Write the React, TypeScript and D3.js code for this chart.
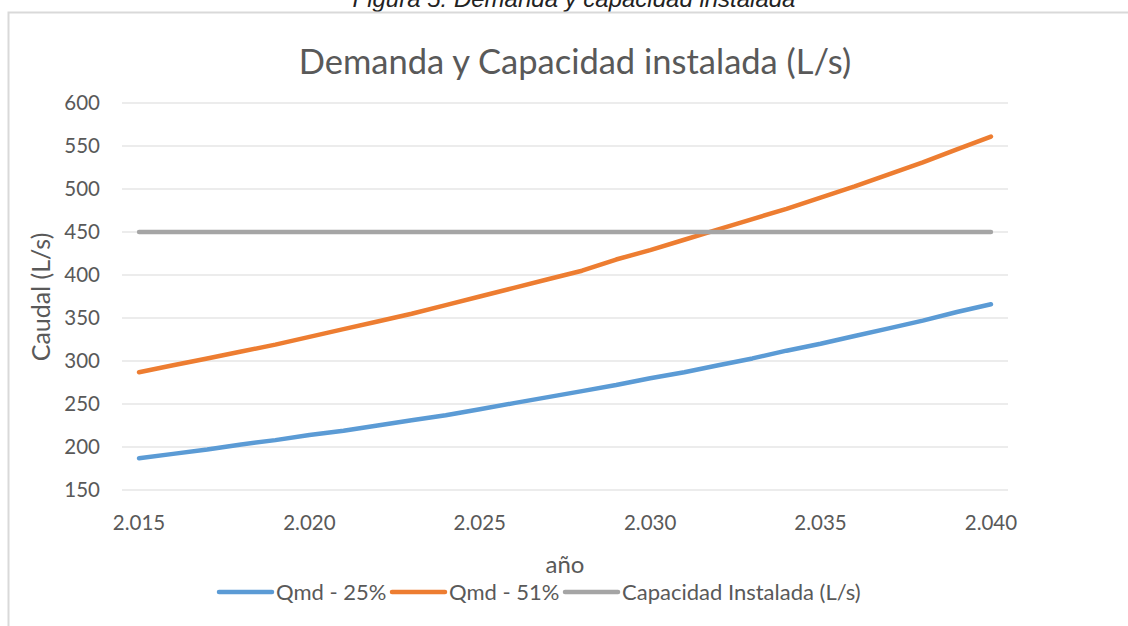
import * as d3 from "d3";
import { useRef, useEffect } from "react";

const years = [
  2015, 2016, 2017, 2018, 2019, 2020, 2021, 2022, 2023, 2024, 2025, 2026, 2027,
  2028, 2029, 2030, 2031, 2032, 2033, 2034, 2035, 2036, 2037, 2038, 2039, 2040,
];
const qmd25 = [
  187, 192, 197, 203, 208, 214, 219, 225, 231, 237, 244, 251, 258, 265, 272,
  280, 287, 295, 303, 312, 320, 329, 338, 347, 357, 366,
];
const qmd51 = [
  287, 295, 303, 311, 319, 328, 337, 346, 355, 365, 375, 385, 395, 405, 418,
  429, 441, 453, 465, 477, 490, 503, 517, 531, 546, 561,
];
const capacidad = years.map(() => 450);
const yTicks = [150, 200, 250, 300, 350, 400, 450, 500, 550, 600];
const xTickYears = [2015, 2020, 2025, 2030, 2035, 2040];
const seriesNames = ["Qmd - 25%", "Qmd - 51%", "Capacidad Instalada (L/s)"];
const colors = ["#5b9bd5", "#ed7d31", "#a5a5a5"];

const W = 1128;
const H = 626;
const FONT = "Lato, 'Open Sans', sans-serif";
const TEXT = "#595959";

export default function App() {
  const svgRef = useRef<SVGSVGElement>(null);

  useEffect(() => {
    const svg = d3.select(svgRef.current);
    svg.selectAll("*").remove();

    const left = 122;
    const right = 1008;
    const top = 103;
    const bottom = 490;

    const x = d3
      .scalePoint<number>()
      .domain(years)
      .range([left, right])
      .padding(0.5);
    const y = d3.scaleLinear().domain([150, 600]).range([bottom, top]);

    // caption above the chart frame (cut off by the page top, as in the source)
    svg
      .append("text")
      .attr("x", 574)
      .attr("y", 7)
      .attr("text-anchor", "middle")
      .attr("font-family", "'Liberation Sans', Arial, sans-serif")
      .attr("font-style", "italic")
      .attr("font-size", 24)
      .attr("fill", "#222")
      .text("Figura 5. Demanda y capacidad instalada");

    // chart frame
    svg
      .append("rect")
      .attr("x", 8.5)
      .attr("y", 12.5)
      .attr("width", W + 20)
      .attr("height", H + 20)
      .attr("fill", "#fff")
      .attr("stroke", "#d9d9d9")
      .attr("stroke-width", 2);

    // title
    svg
      .append("text")
      .attr("x", 575)
      .attr("y", 74)
      .attr("text-anchor", "middle")
      .attr("font-family", FONT)
      .attr("font-size", 34.5)
      .attr("fill", TEXT)
      .text("Demanda y Capacidad instalada (L/s)");

    // grid + y labels
    svg
      .append("g")
      .selectAll("line")
      .data(yTicks)
      .join("line")
      .attr("x1", left)
      .attr("x2", right)
      .attr("y1", (d) => y(d))
      .attr("y2", (d) => y(d))
      .attr("stroke", "#d9d9d9")
      .attr("stroke-width", 1);

    svg
      .append("g")
      .selectAll("text")
      .data(yTicks)
      .join("text")
      .attr("x", 100)
      .attr("y", (d) => y(d))
      .attr("dy", "0.35em")
      .attr("text-anchor", "end")
      .attr("font-family", FONT)
      .attr("font-size", 20.5)
      .attr("fill", TEXT)
      .text((d) => d);

    svg
      .append("g")
      .selectAll("text")
      .data(xTickYears)
      .join("text")
      .attr("x", (d) => x(d)!)
      .attr("y", 530)
      .attr("text-anchor", "middle")
      .attr("font-family", FONT)
      .attr("font-size", 20.5)
      .attr("fill", TEXT)
      .text((d) => d3.format(",.3f")(d / 1000).replace(",", "."));

    // axis titles
    svg
      .append("text")
      .attr("x", 565)
      .attr("y", 573)
      .attr("text-anchor", "middle")
      .attr("font-family", FONT)
      .attr("font-size", 24)
      .attr("fill", TEXT)
      .text("año");

    svg
      .append("text")
      .attr("transform", "translate(50,297) rotate(-90)")
      .attr("text-anchor", "middle")
      .attr("font-family", FONT)
      .attr("font-size", 25)
      .attr("fill", TEXT)
      .text("Caudal (L/s)");

    // series lines
    const line = d3
      .line<number>()
      .x((_, i) => x(years[i])!)
      .y((d) => y(d));

    svg
      .append("g")
      .selectAll("path")
      .data([qmd25, qmd51, capacidad])
      .join("path")
      .attr("fill", "none")
      .attr("stroke", (_, i) => colors[i])
      .attr("stroke-width", 4.5)
      .attr("stroke-linecap", "round")
      .attr("stroke-linejoin", "round")
      .attr("d", (d) => line(d));

    // legend
    const legendX = [219, 392, 565];
    const legend = svg
      .append("g")
      .selectAll("g")
      .data(seriesNames)
      .join("g")
      .attr("transform", (_, i) => `translate(${legendX[i]},592)`);
    legend
      .append("line")
      .attr("x1", 0)
      .attr("x2", 53)
      .attr("stroke", (_, i) => colors[i])
      .attr("stroke-width", 4.5)
      .attr("stroke-linecap", "round");
    legend
      .append("text")
      .attr("x", 57)
      .attr("dy", "0.35em")
      .attr("font-family", FONT)
      .attr("font-size", 22)
      .attr("fill", TEXT)
      .text((d) => d);
  }, []);

  return (
    <svg
      ref={svgRef}
      width={W}
      height={H}
      style={{ position: "absolute", left: 0, top: 0 }}
    />
  );
}
